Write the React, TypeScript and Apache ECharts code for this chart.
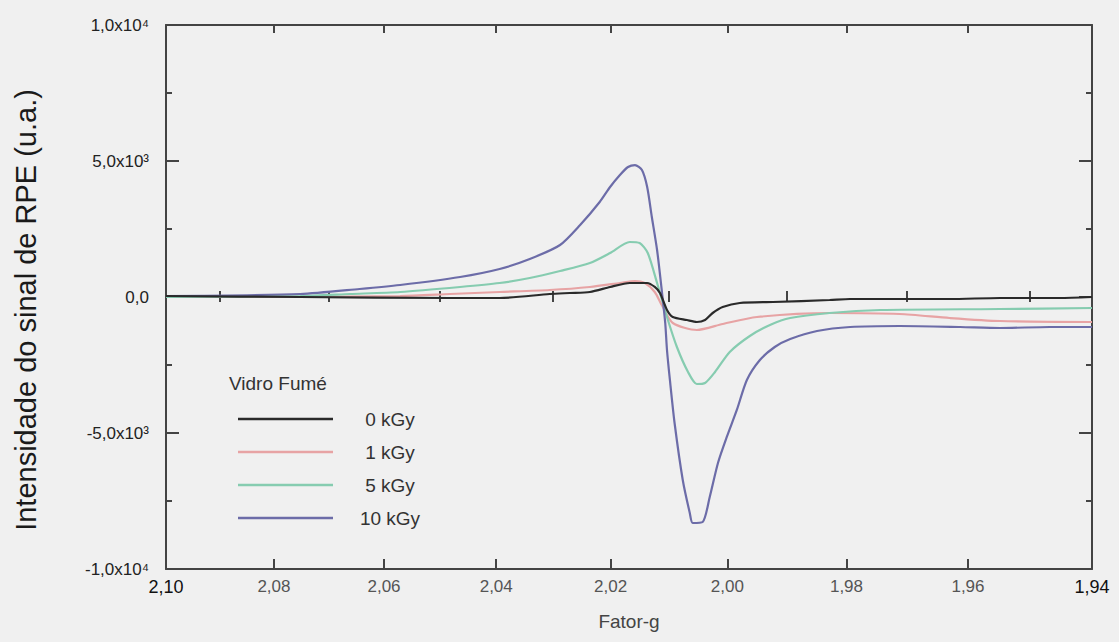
import React, { useEffect, useRef } from "react";
import * as echarts from "echarts";

// x axis: g-factor (spectrum recorded linear in field, so g ticks are not evenly spaced)
const X_MAJOR = [2.1, 2.08, 2.06, 2.04, 2.02, 2.0, 1.98, 1.96, 1.94];
const X_MINOR = [2.09, 2.07, 2.05, 2.03, 2.01, 1.99, 1.97, 1.95];
const Y_TICKS = [-10000, -5000, 0, 5000, 10000];
const Y_LABELS = ["-1,0x10\u2074", "-5,0x10\u00b3", "0,0", "5,0x10\u00b3", "1,0x10\u2074"];

const NAMES = ["0 kGy", "1 kGy", "5 kGy", "10 kGy"];
const COLORS = ["#2a2a2a", "#e7a3a4", "#86ccb0", "#6c6ca8"];

const G_0 = [2.1, 2.0752, 2.0482, 2.0394, 2.0306, 2.0271, 2.0236, 2.0201, 2.0167, 2.0137, 2.0124, 2.0115, 2.0103, 2.0093, 2.0069, 2.0052, 2.0038, 2.0025, 2.0008, 1.9979, 1.9923, 1.9828, 1.9794, 1.963, 1.9548, 1.9452, 1.94];
const V_0 = [37, 0, -37, -37, 110, 147, 184, 368, 515, 515, 368, 147, -478, -735, -846, -919, -846, -588, -368, -221, -184, -110, -74, -74, -37, -37, 0];

const G_1 = [2.1, 2.0752, 2.0571, 2.0482, 2.0394, 2.0306, 2.0236, 2.0184, 2.0158, 2.0141, 2.0124, 2.0112, 2.0093, 2.0052, 2.0008, 1.995, 1.9828, 1.9712, 1.963, 1.9548, 1.94];
const V_1 = [0, 0, 37, 110, 184, 257, 368, 515, 588, 515, 184, -294, -956, -1213, -993, -735, -588, -625, -772, -882, -919];

const G_5 = [2.1, 2.0752, 2.0661, 2.0571, 2.0464, 2.0394, 2.0341, 2.0288, 2.0236, 2.0201, 2.0167, 2.015, 2.0136, 2.012, 2.0103, 2.0086, 2.0067, 2.0052, 2.0038, 2.0021, 1.9996, 1.9962, 1.9928, 1.9894, 1.9828, 1.9744, 1.9548, 1.94];
const V_5 = [0, 37, 110, 184, 368, 515, 698, 956, 1250, 1617, 2022, 1985, 1617, 515, -735, -1838, -2757, -3198, -3161, -2757, -2022, -1434, -1029, -772, -588, -478, -441, -404];

const G_10 = [2.1, 2.0752, 2.0644, 2.0571, 2.0464, 2.0394, 2.0341, 2.0288, 2.0253, 2.0219, 2.0201, 2.0184, 2.017, 2.0158, 2.0146, 2.0137, 2.0129, 2.012, 2.0112, 2.0106, 2.0103, 2.0098, 2.009, 2.0076, 2.0064, 2.0059, 2.0042, 2.003, 2.0016, 2.0001, 1.9984, 1.9967, 1.9945, 1.992, 1.9894, 1.9849, 1.9794, 1.9712, 1.9613, 1.9548, 1.9468, 1.94];
const V_10 = [37, 110, 294, 441, 735, 1029, 1397, 1912, 2647, 3492, 4044, 4485, 4779, 4852, 4669, 4044, 2941, 1728, 257, -956, -1948, -3051, -4632, -6727, -7940, -8308, -8271, -7352, -6102, -5146, -4154, -3051, -2316, -1838, -1544, -1250, -1103, -1066, -1103, -1140, -1103, -1103];

const G_SETS = [G_0, G_1, G_5, G_10];
const V_SETS = [V_0, V_1, V_5, V_10];

const FONT = "'Liberation Sans', Arial, sans-serif";
const AXIS_COLOR = "#444";

const inv = (g: number) => 1 / g;
const X_MIN = inv(2.1);
const X_MAX = inv(1.94);

function fmtG(v: number) {
  const s = (1 / v).toFixed(2).replace(".", ",");
  if (s === "2,10" || s === "1,94") return "{d|" + s + "}";
  return s;
}

function buildOption() {
  const xBase = { type: "value", min: X_MIN, max: X_MAX, splitLine: { show: false } };
  const tickStyle = { color: AXIS_COLOR, width: 2 };
  const xAxes = [
    {
      ...xBase,
      position: "bottom",
      axisLine: { show: true, onZero: false, lineStyle: { color: AXIS_COLOR, width: 2 } },
      axisTick: { show: true, inside: true, length: 10, customValues: X_MAJOR.map(inv), lineStyle: tickStyle },
      axisLabel: {
        show: true,
        customValues: X_MAJOR.map(inv),
        formatter: fmtG,
        margin: 9,
        fontSize: 17,
        fontFamily: FONT,
        color: "#555",
        rich: { d: { fontSize: 18, color: "#111", fontFamily: FONT } },
      },
      name: "Fator-g",
      nameLocation: "middle",
      nameGap: 43,
      nameTextStyle: { fontSize: 19, fontFamily: FONT, color: "#444" },
    },
    {
      ...xBase,
      position: "bottom",
      axisLine: { show: false },
      axisTick: { show: true, inside: true, length: 6, customValues: X_MINOR.map(inv), lineStyle: tickStyle },
      axisLabel: { show: false },
    },
    {
      ...xBase,
      position: "top",
      axisLine: { show: true, onZero: false, lineStyle: { color: AXIS_COLOR, width: 2 } },
      axisTick: { show: true, inside: true, length: 8, customValues: X_MAJOR.map(inv), lineStyle: tickStyle },
      axisLabel: { show: false },
    },
    {
      ...xBase,
      position: "top",
      axisLine: { show: false },
      axisTick: { show: true, inside: true, length: 5, customValues: X_MINOR.map(inv), lineStyle: tickStyle },
      axisLabel: { show: false },
    },
  ];

  const yBase = {
    type: "value",
    min: -10000,
    max: 10000,
    interval: 5000,
    splitLine: { show: false },
    axisLine: { show: true, onZero: false, lineStyle: { color: AXIS_COLOR, width: 2 } },
    axisTick: { show: true, inside: true, length: 13, lineStyle: tickStyle },
    minorTick: { show: true, splitNumber: 2, length: 6, lineStyle: tickStyle },
  };

  const yAxes = [
    {
      ...yBase,
      position: "left",
      axisLabel: {
        show: true,
        margin: 17,
        fontSize: 17,
        fontFamily: FONT,
        color: "#222",
        formatter: (v: number) => {
          const i = Y_TICKS.indexOf(v);
          return i >= 0 ? Y_LABELS[i] : "";
        },
      },
      name: "Intensidade do sinal de RPE (u.a.)",
      nameLocation: "middle",
      nameGap: 126,
      nameTextStyle: { fontSize: 29, fontFamily: FONT, color: "#1a1a1a", padding: [0, 26, 0, 0] },
    },
    { ...yBase, position: "right", axisLabel: { show: false } },
  ];

  const series = NAMES.map((name, k) => ({
    type: "line",
    name,
    xAxisIndex: 0,
    yAxisIndex: 0,
    symbol: "none",
    smooth: 0.25,
    data: G_SETS[k].map((g, i) => [inv(g), V_SETS[k][i]]),
    lineStyle: { color: COLORS[k], width: 2.2 },
    itemStyle: { color: COLORS[k] },
    z: k === 0 ? 5 : 3,
  }));

  return {
    animation: false,
    backgroundColor: "#f0f0f0",
    grid: { left: 166, right: 27, top: 25, bottom: 73, containLabel: false },
    xAxis: xAxes,
    yAxis: yAxes,
    legend: {
      orient: "vertical",
      left: 233,
      top: 403,
      icon: "rect",
      itemWidth: 95,
      itemHeight: 2.5,
      itemGap: 11,
      data: NAMES,
      formatter: (n: string) => "{n|" + n + "}",
      textStyle: {
        fontSize: 19,
        fontFamily: FONT,
        color: "#333",
        rich: { n: { width: 104, height: 22, lineHeight: 22, align: "center", fontSize: 19, fontFamily: FONT, color: "#333" } },
      },
    },
    graphic: [
      {
        type: "text",
        left: 229,
        top: 374,
        style: { text: "Vidro Fumé", fontSize: 19, fontFamily: FONT, fill: "#333" },
      },
    ],
    series,
  };
}

export default function App() {
  const ref = useRef<HTMLDivElement>(null);
  useEffect(() => {
    if (!ref.current) return;
    const chart = echarts.init(ref.current, null, { renderer: "svg" });
    chart.setOption(buildOption() as any);
    return () => chart.dispose();
  }, []);
  return (
    <div style={{ position: "fixed", left: 0, top: 0, width: 1119, height: 642, background: "#f0f0f0" }}>
      <div ref={ref} style={{ width: 1119, height: 642 }} />
    </div>
  );
}
